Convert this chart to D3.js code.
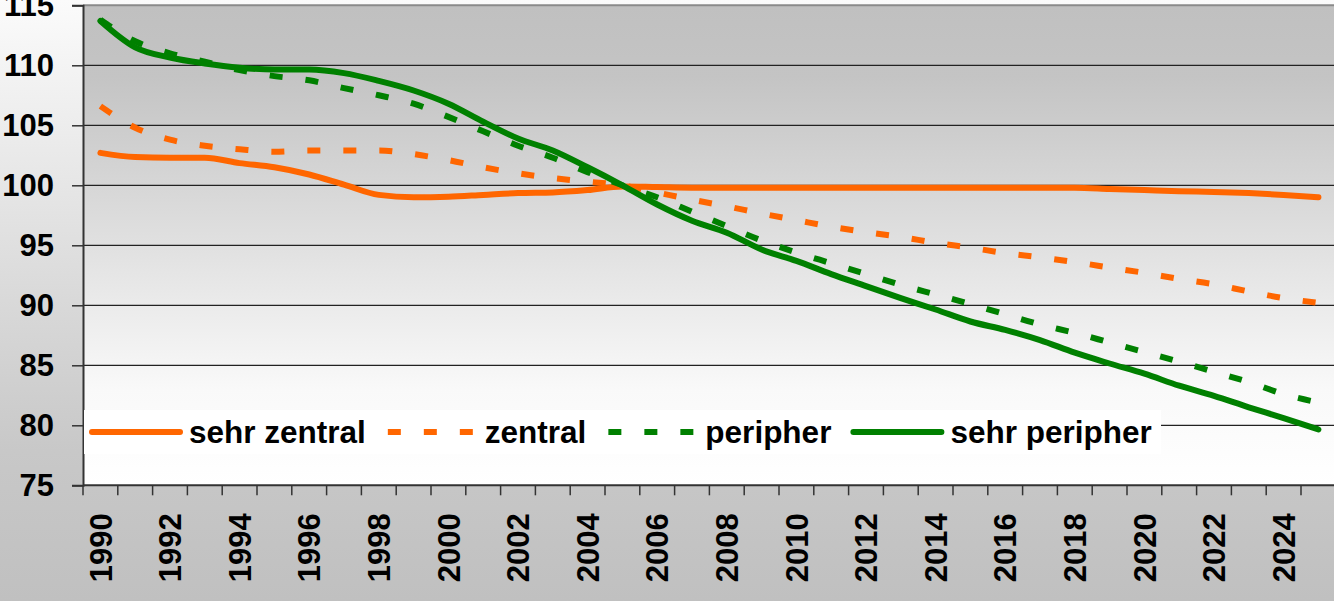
<!DOCTYPE html>
<html>
<head>
<meta charset="utf-8">
<script src="https://cdn.jsdelivr.net/npm/d3@7"></script>
<style>
  body { margin: 0; background: #fff; }
  svg { display: block; }
  text { font-family: "Liberation Sans", Arial, sans-serif; font-weight: bold; fill: #000; }
</style>
</head>
<body>
<svg id="chart" width="1334" height="601"></svg>
<script>
// Years on the x axis (one category each)
var years = d3.range(1990, 2026);

// Index values (2005 = 100)
var sehrZentral = [102.7, 102.35, 102.3, 102.3, 101.85, 101.5, 100.9, 100.05, 99.2, 99.0,
    99.05, 99.2, 99.35, 99.4, 99.6, 99.9, 99.85, 99.8, 99.8, 99.8,
    99.8, 99.8, 99.8, 99.8, 99.8, 99.8, 99.8, 99.8, 99.8, 99.7,
    99.6, 99.5, 99.45, 99.35, 99.2, 99.0];

var zentral = [106.6, 104.8, 103.8, 103.3, 103.0, 102.8, 102.9, 102.9, 102.9, 102.6,
    102.1, 101.5, 101.0, 100.6, 100.3, 100.0, 99.4, 98.8, 98.25, 97.65,
    97.1, 96.55, 96.1, 95.7, 95.2, 94.8, 94.35, 94.0, 93.6, 93.15,
    92.7, 92.2, 91.75, 91.15, 90.6, 90.2];

var peripher = [113.8, 112.0, 111.0, 110.3, 109.6, 109.1, 108.75, 108.1, 107.5, 106.8,
    105.7, 104.5, 103.3, 102.3, 101.1, 100.0, 99.0, 97.8, 96.6, 95.4,
    94.4, 93.5, 92.6, 91.7, 90.9, 90.1, 89.25, 88.4, 87.7, 86.9,
    86.1, 85.3, 84.45, 83.6, 82.6, 81.9];

var sehrPeripher = [113.7, 111.5, 110.65, 110.15, 109.8, 109.65, 109.65, 109.35, 108.7, 107.9,
    106.8, 105.3, 103.9, 102.9, 101.5, 100.0, 98.4, 97.05, 96.05, 94.65,
    93.7, 92.6, 91.6, 90.6, 89.65, 88.65, 87.95, 87.1, 86.05, 85.15,
    84.3, 83.3, 82.45, 81.5, 80.6, 79.65];

var seriesNames = ["sehr zentral", "zentral", "peripher", "sehr peripher"];
var seriesColors = ["#ff6600", "#ff6600", "#008000", "#008000"];
var seriesDashed = [false, true, true, false];
var yTicks = [75, 80, 85, 90, 95, 100, 105, 110, 115];

var series = [sehrZentral, zentral, peripher, sehrPeripher].map(function(vals, i) {
    return {
        name: seriesNames[i],
        color: seriesColors[i],
        dashed: seriesDashed[i],
        values: vals.map(function(v, j) { return {year: years[j], value: v}; })
    };
});

var W = 1334, H = 601;
var plot = {left: 83, top: 5.3, right: 1335.8, bottom: 485.3};

var svg = d3.select("#chart");
var defs = svg.append("defs");

// Outer background: light at top, grey at bottom
var gOuter = defs.append("linearGradient")
    .attr("id", "outerBg").attr("x1", 0).attr("y1", 0).attr("x2", 0).attr("y2", 1);
gOuter.append("stop").attr("offset", "0%").attr("stop-color", "#fbfbfb");
gOuter.append("stop").attr("offset", "75%").attr("stop-color", "#c8c8c8");
gOuter.append("stop").attr("offset", "100%").attr("stop-color", "#c0c0c0");

// Plot area: grey at top, white at bottom
var gPlot = defs.append("linearGradient")
    .attr("id", "plotBg").attr("x1", 0).attr("y1", 0).attr("x2", 0).attr("y2", 1);
gPlot.append("stop").attr("offset", "0%").attr("stop-color", "#c0c0c0");
gPlot.append("stop").attr("offset", "15%").attr("stop-color", "#c4c4c4");
gPlot.append("stop").attr("offset", "80%").attr("stop-color", "#f9f9f9");
gPlot.append("stop").attr("offset", "100%").attr("stop-color", "#ffffff");

svg.append("rect").attr("width", W).attr("height", H).attr("fill", "url(#outerBg)");

var x = d3.scaleBand()
    .domain(years)
    .range([plot.left, plot.right])
    .paddingInner(0).paddingOuter(0);

var y = d3.scaleLinear()
    .domain([75, 115])
    .range([plot.bottom, plot.top]);

svg.append("rect")
    .attr("x", plot.left).attr("y", plot.top)
    .attr("width", plot.right - plot.left).attr("height", plot.bottom - plot.top)
    .attr("fill", "url(#plotBg)");

// Horizontal gridlines
svg.append("g")
    .selectAll("line")
    .data(yTicks.filter(function(d) { return d > 75; }))
    .join("line")
    .attr("x1", plot.left).attr("x2", plot.right)
    .attr("y1", function(d) { return y(d); })
    .attr("y2", function(d) { return y(d); })
    .attr("stroke", function(d) { return d === 115 ? "#8a8a8a" : "#222"; })
    .attr("stroke-width", function(d) { return d === 115 ? 2 : 1.3; });

// Y axis
var yAxis = svg.append("g")
    .attr("transform", "translate(" + plot.left + ",0)")
    .call(d3.axisLeft(y).tickValues(yTicks).tickSize(11).tickPadding(18));
yAxis.select(".domain").attr("stroke", "#333").attr("stroke-width", 2);
yAxis.selectAll(".tick line").attr("stroke", "#333").attr("stroke-width", 1.5);
yAxis.selectAll(".tick text")
    .style("font-size", "31px")
    .style("font-family", "'Liberation Sans', Arial, sans-serif")
    .style("font-weight", "bold")
    .attr("fill", "#000");

// X axis: ticks between categories, labels rotated
var xAxisG = svg.append("g")
    .attr("transform", "translate(0," + plot.bottom + ")");
xAxisG.append("line")
    .attr("x1", plot.left).attr("x2", plot.right)
    .attr("stroke", "#333").attr("stroke-width", 2);
xAxisG.selectAll(".xtick")
    .data(years.concat([null]))
    .join("line")
    .attr("class", "xtick")
    .attr("x1", function(d, i) { return x.range()[0] + i * x.step(); })
    .attr("x2", function(d, i) { return x.range()[0] + i * x.step(); })
    .attr("y1", 0).attr("y2", 10)
    .attr("stroke", "#333").attr("stroke-width", 1.5);
xAxisG.selectAll(".xlab")
    .data(years.filter(function(d) { return d % 2 === 0; }))
    .join("text")
    .attr("class", "xlab")
    .attr("transform", function(d) {
        return "translate(" + (x(d) + x.bandwidth() / 2) + ",28) rotate(-90)";
    })
    .attr("text-anchor", "end")
    .attr("dy", "0.36em")
    .style("font-size", "31px")
    .text(function(d) { return d; });

// Legend background (hides the gridline behind it)
svg.append("rect")
    .attr("x", plot.left + 1).attr("y", 410)
    .attr("width", 1077).attr("height", 44)
    .attr("fill", "#ffffff");

// Lines
var line = d3.line()
    .x(function(d) { return x(d.year) + x.bandwidth() / 2; })
    .y(function(d) { return y(d.value); })
    .curve(d3.curveMonotoneX);

svg.append("g")
    .selectAll("path")
    .data(series)
    .join("path")
    .attr("fill", "none")
    .attr("stroke", function(d) { return d.color; })
    .attr("stroke-width", 6)
    .attr("stroke-linecap", function(d) { return d.dashed ? "butt" : "round"; })
    .attr("stroke-linejoin", "round")
    .attr("stroke-dasharray", function(d) { return d.dashed ? "13,23" : null; })
    .attr("d", function(d) { return line(d.values); });

// Legend
var legend = svg.append("g");
var lx = 92, ly = 432;
series.forEach(function(s) {
    legend.append("line")
        .attr("x1", lx).attr("x2", lx + 88)
        .attr("y1", ly).attr("y2", ly)
        .attr("stroke", s.color)
        .attr("stroke-width", 6)
        .attr("stroke-linecap", s.dashed ? "butt" : "round")
        .attr("stroke-dasharray", s.dashed ? "13,23" : null);
    var t = legend.append("text")
        .attr("x", lx + 97).attr("y", ly + 11)
        .style("font-size", "31.5px")
        .text(s.name);
    lx = lx + 97 + t.node().getComputedTextLength() + 22;
});
</script>
</body>
</html>
